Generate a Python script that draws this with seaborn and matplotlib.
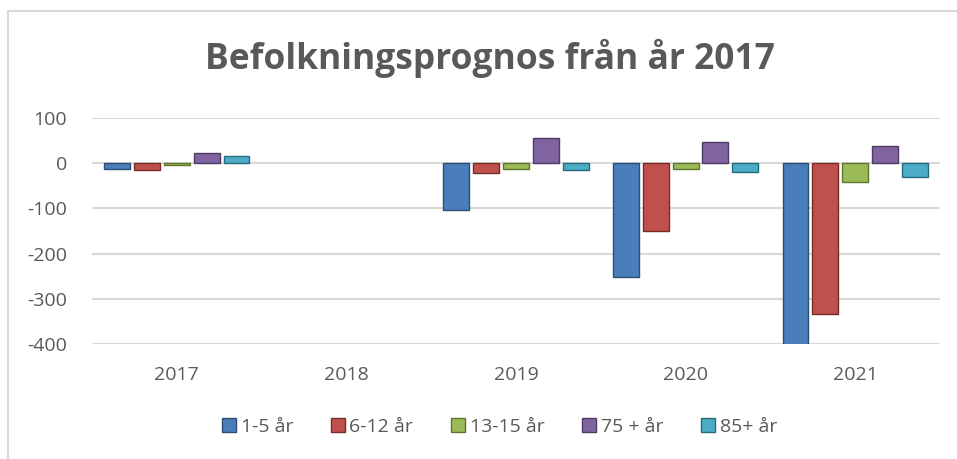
import numpy as np
import pandas as pd
import seaborn as sns
import matplotlib.pyplot as plt
from matplotlib.lines import Line2D

years = ['2017', '2018', '2019', '2020', '2021']
groups = ['1-5 år', '6-12 år', '13-15 år', '75 + år', '85+ år']
v_1_5 = [-12, np.nan, -104, -251, -420]
v_6_12 = [-15, np.nan, -21, -149, -333]
v_13_15 = [-3, np.nan, -12, -13, -41]
v_75 = [22, np.nan, 55, 46, 37]
v_85 = [15, np.nan, -15, -19, -30]
colors = ['#4A7EBB', '#C0504D', '#9BBB59', '#8064A2', '#4BACC6']
edges = ['#2C4D75', '#772C2A', '#5F7530', '#4D3B62', '#276A7C']

series = [v_1_5, v_6_12, v_13_15, v_75, v_85]
df = pd.DataFrame({
    'year': years * len(groups),
    'group': [g for g in groups for _ in years],
    'value': [v for s in series for v in s],
})

sns.set_style('white')
plt.rcParams['font.family'] = ['Open Sans', 'DejaVu Sans']
plt.rcParams['axes.unicode_minus'] = False

fig = plt.figure(figsize=(9.57, 4.59), dpi=100)
ax = fig.add_axes([92 / 957, 1 - 344 / 459, 848 / 957, 226 / 459])

sns.barplot(data=df, x='year', y='value', hue='group', order=years, hue_order=groups,
            palette=colors, saturation=1, width=0.88, gap=0.13, errorbar=None, ax=ax,
            legend=False)

for cont, ec in zip(ax.containers, edges):
    for bar in cont:
        bar.set_edgecolor(ec)
        bar.set_linewidth(1.0)

ax.set_ylim(-400, 100)
ax.set_xlim(-0.5, 4.5)
ax.set_yticks([100, 0, -100, -200, -300, -400])
ax.yaxis.grid(True, color='#D9D9D9', linewidth=1.5)
ax.set_axisbelow(True)
for s in ax.spines.values():
    s.set_visible(False)
ax.set_xlabel('')
ax.set_ylabel('')
ax.tick_params(axis='both', length=0, labelsize=14, colors='#595959')
ax.tick_params(axis='x', pad=16)
ax.tick_params(axis='y', pad=18)

fig.text(0.512, 1 - 58 / 459, 'Befolkningsprognos från år 2017', ha='center', va='center',
         fontsize=25.5, fontweight='bold', color='#595959')

handles = [plt.Rectangle((0, 0), 1, 1, facecolor=c, edgecolor=e) for c, e in zip(colors, edges)]
fig.legend(handles, groups, loc='center', bbox_to_anchor=(0.522, 1 - 427 / 459), ncol=5,
           frameon=False, handlelength=0.7, handleheight=0.7, handletextpad=0.25,
           columnspacing=1.95, fontsize=14, labelcolor='#595959')

fig.add_artist(Line2D([8 / 957, 1], [1 - 11 / 459] * 2, color='#D9D9D9', linewidth=1.5))
fig.add_artist(Line2D([8 / 957] * 2, [0, 1 - 11 / 459], color='#D9D9D9', linewidth=1.5))

fig.savefig('out.png', dpi=100)
